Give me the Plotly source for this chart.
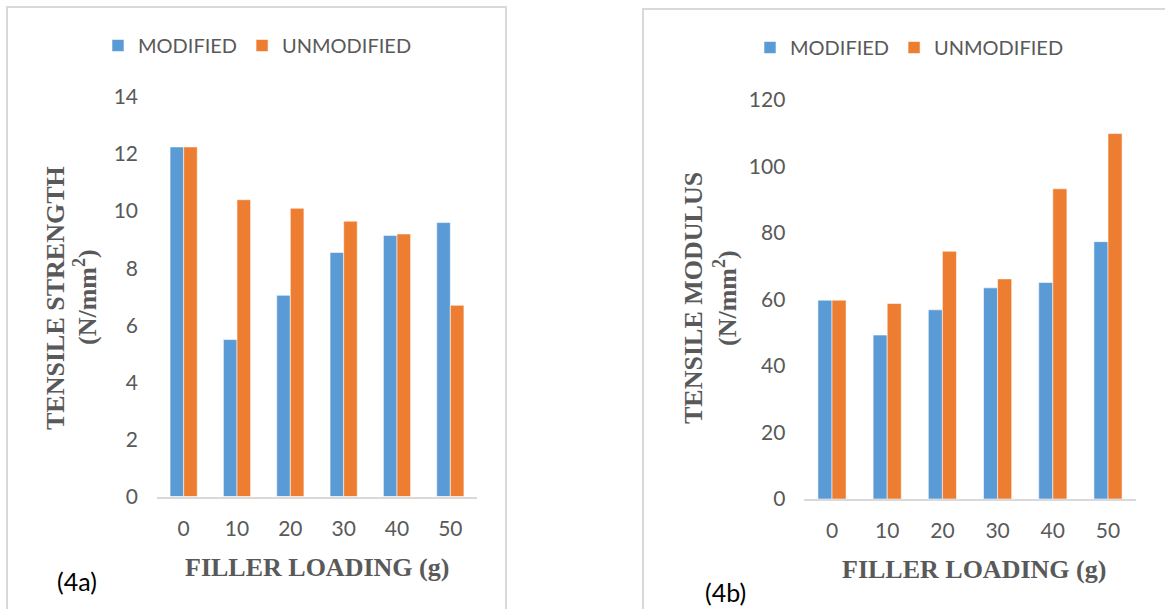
import plotly.graph_objects as go

W, H = 1165, 609

# Filler loading levels (g)
loading = ["0", "10", "20", "30", "40", "50"]

# Tensile strength (N/mm^2)
strength_modified = [12.25, 5.5, 7.05, 8.55, 9.15, 9.6]
strength_unmodified = [12.25, 10.4, 10.1, 9.65, 9.2, 6.7]

# Tensile modulus (N/mm^2)
modulus_modified = [59.8, 49.3, 56.9, 63.5, 65.1, 77.4]
modulus_unmodified = [59.8, 58.8, 74.5, 66.2, 93.3, 109.9]

BLUE = "#5B9BD5"
ORANGE = "#ED7D31"
GREY = "#595959"
SANS = "Lato, 'Open Sans', sans-serif"
SERIF = "'Liberation Serif', 'Times New Roman', serif"


def px_x(v):
    return v / W


def px_y(v):
    return 1 - v / H


fig = go.Figure()

bar_line = dict(width=1, color="rgba(255,255,255,0.55)")

fig.add_trace(go.Bar(x=loading, y=strength_modified, name="MODIFIED",
                     marker=dict(color=BLUE, line=bar_line),
                     xaxis="x", yaxis="y", legend="legend"))
fig.add_trace(go.Bar(x=loading, y=strength_unmodified, name="UNMODIFIED",
                     marker=dict(color=ORANGE, line=bar_line),
                     xaxis="x", yaxis="y", legend="legend"))
fig.add_trace(go.Bar(x=loading, y=modulus_modified, name="MODIFIED",
                     marker=dict(color=BLUE, line=bar_line),
                     xaxis="x2", yaxis="y2", legend="legend2"))
fig.add_trace(go.Bar(x=loading, y=modulus_unmodified, name="UNMODIFIED",
                     marker=dict(color=ORANGE, line=bar_line),
                     xaxis="x2", yaxis="y2", legend="legend2"))

tick_font = dict(family=SANS, size=21, color=GREY)
title_font = dict(family=SERIF, size=26, color=GREY)

xaxis_common = dict(type="category", showline=True, linecolor="#D9D9D9",
                    linewidth=2, ticks="", showgrid=False, zeroline=False,
                    tickfont=tick_font, ticklabelstandoff=12, automargin=False)
yaxis_common = dict(showline=False, ticks="", showgrid=False, zeroline=False,
                    tickfont=tick_font, ticklabelstandoff=18, automargin=False)

legend_common = dict(orientation="h", xanchor="left", yanchor="middle",
                     font=dict(family=SANS, size=20, color=GREY),
                     bgcolor="rgba(0,0,0,0)", itemwidth=30,
                     itemclick=False, itemdoubleclick=False)

fig.update_layout(
    width=W, height=H,
    margin=dict(l=0, r=0, t=0, b=0, autoexpand=False),
    paper_bgcolor="white", plot_bgcolor="white",
    barmode="group", bargap=0.49, bargroupgap=0,
    xaxis=dict(domain=[px_x(157), px_x(477)], anchor="y", **xaxis_common),
    yaxis=dict(domain=[px_y(496.5), px_y(97)], anchor="x",
               range=[0, 14], dtick=2, **yaxis_common),
    xaxis2=dict(domain=[px_x(804.4), px_x(1135.6)], anchor="y2", **xaxis_common),
    yaxis2=dict(domain=[px_y(499), px_y(100)], anchor="x2",
                range=[0, 120], dtick=20, **yaxis_common),
    legend=dict(x=px_x(98), y=px_y(45.5), **legend_common),
    legend2=dict(x=px_x(750), y=px_y(47.5), **legend_common),
    showlegend=True,
)

# Panel frames
frame = dict(color="#D9D9D9", width=2)
fig.add_shape(type="rect", xref="paper", yref="paper",
              x0=px_x(7), x1=px_x(506), y0=px_y(7), y1=px_y(640),
              line=frame, layer="below")
fig.add_shape(type="rect", xref="paper", yref="paper",
              x0=px_x(643), x1=px_x(1200), y0=px_y(9), y1=px_y(640),
              line=frame, layer="below")


def text_at(x, y, text, font, angle=0):
    fig.add_annotation(x=px_x(x), y=px_y(y), xref="paper", yref="paper",
                       text=text, textangle=angle, showarrow=False, font=font,
                       xanchor="center", yanchor="middle", borderpad=0)


# Axis titles
text_at(317, 567, "<b>FILLER LOADING (g)</b>", title_font)
text_at(974, 569, "<b>FILLER LOADING (g)</b>", title_font)

text_at(55, 298, "<b>TENSILE STRENGTH</b>", title_font, -90)
text_at(85, 297, "<b>(N/mm<sup>2</sup>)</b>", title_font, -90)
text_at(693, 298, "<b>TENSILE MODULUS</b>", title_font, -90)
text_at(725, 298, "<b>(N/mm<sup>2</sup>)</b>", title_font, -90)

# Panel labels
label_font = dict(family=SANS, size=25, color="black")
text_at(77, 581, "(4a)", label_font)
text_at(725, 592, "(4b)", label_font)

fig.write_html("out.html")
